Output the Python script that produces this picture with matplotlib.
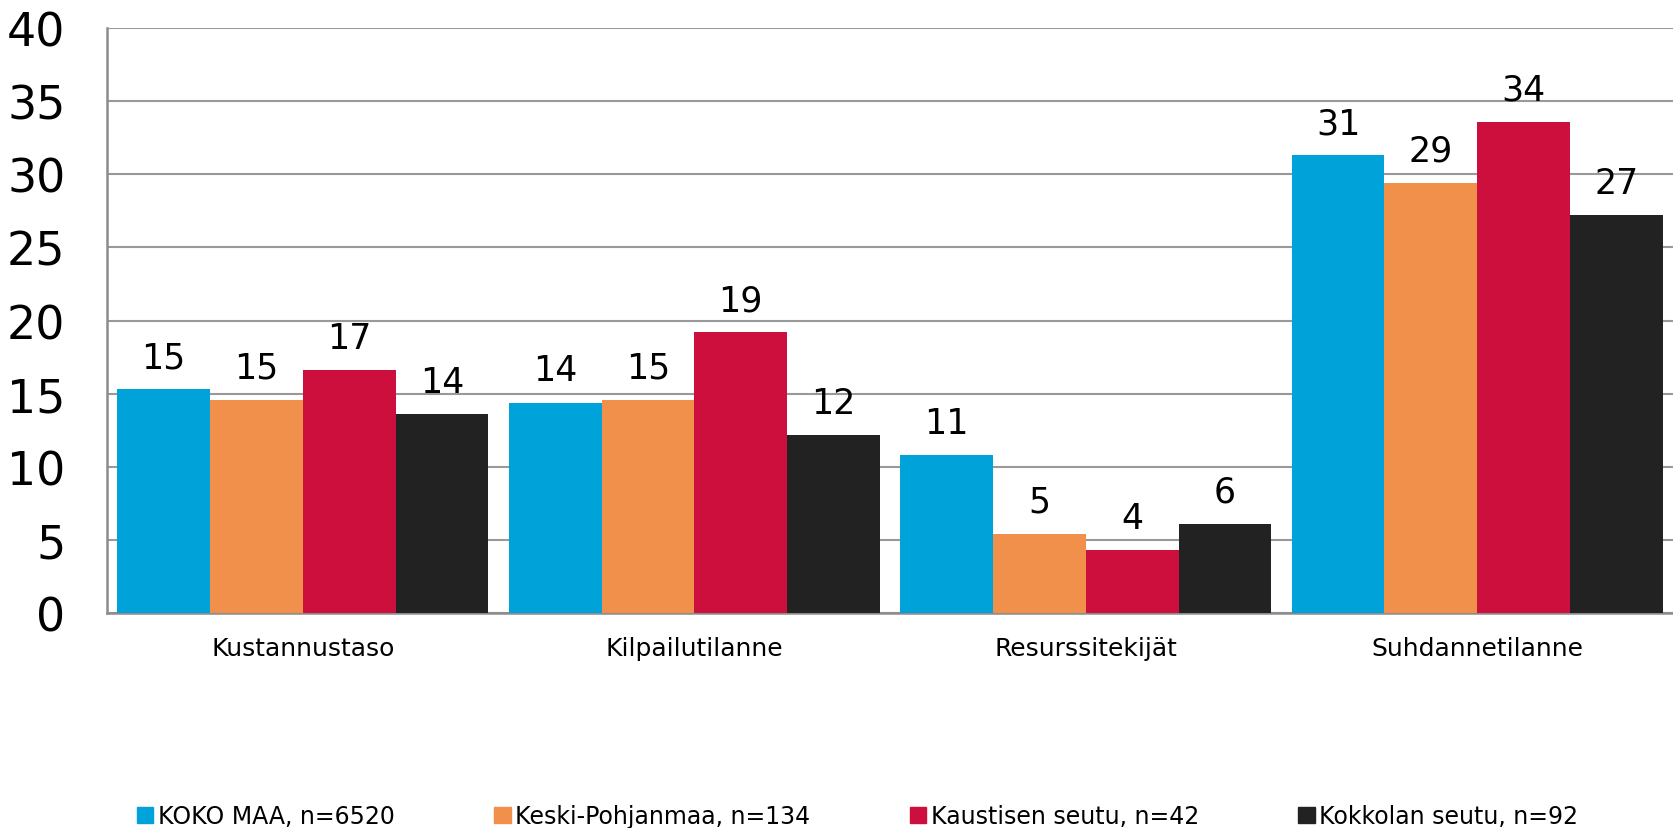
import numpy as np
import matplotlib.pyplot as plt
from matplotlib.patches import Patch

categories = ['Kustannustaso', 'Kilpailutilanne', 'Resurssitekijät', 'Suhdannetilanne']
series = ['KOKO MAA, n=6520', 'Keski-Pohjanmaa, n=134', 'Kaustisen seutu, n=42', 'Kokkolan seutu, n=92']
koko_maa = [15.3, 14.4, 10.8, 31.3]
keski_pohjanmaa = [14.6, 14.6, 5.4, 29.4]
kaustinen = [16.6, 19.2, 4.3, 33.6]
kokkola = [13.6, 12.2, 6.1, 27.2]
colors = ['#00A3D9', '#F0904A', '#CC0F3C', '#222222']

values = [koko_maa, keski_pohjanmaa, kaustinen, kokkola]

fig = plt.figure(figsize=(16.73, 8.29), dpi=100)
ax = fig.add_axes([0.064, 0.259, 0.936, 0.706])

x = np.arange(len(categories))
w = 0.237
for i, (vals, col) in enumerate(zip(values, colors)):
    bars = ax.bar(x + (i - 1.5) * w, vals, width=w, color=col, zorder=3)
    ax.bar_label(bars, fmt='%.0f', padding=11, fontsize=25, color='black')

ax.set_xlim(-0.5, 3.5)
ax.set_ylim(0, 40)
ax.set_yticks(np.arange(0, 41, 5))
ax.set_xticks(x)
ax.set_xticklabels(categories, fontsize=18)
ax.tick_params(axis='y', length=0, pad=30, labelsize=33)
ax.tick_params(axis='x', length=0, pad=16)
ax.grid(axis='y', color='#999999', linewidth=1.5, zorder=0)
ax.set_axisbelow(True)
for s in ['top', 'right']:
    ax.spines[s].set_visible(False)
for s in ['left', 'bottom']:
    ax.spines[s].set_color('#8c8c8c')
    ax.spines[s].set_linewidth(1.8)

handles = [Patch(color=c, label=l) for c, l in zip(colors, series)]
fig.legend(handles=handles, loc='center left', bbox_to_anchor=(0.069, 0.014), ncol=4,
           frameon=False, handlelength=0.7, handleheight=0.7,
           handletextpad=0.2, columnspacing=4.2,
           prop={'family': 'DejaVu Sans', 'size': 17})

fig.savefig('out.png', dpi=100)
